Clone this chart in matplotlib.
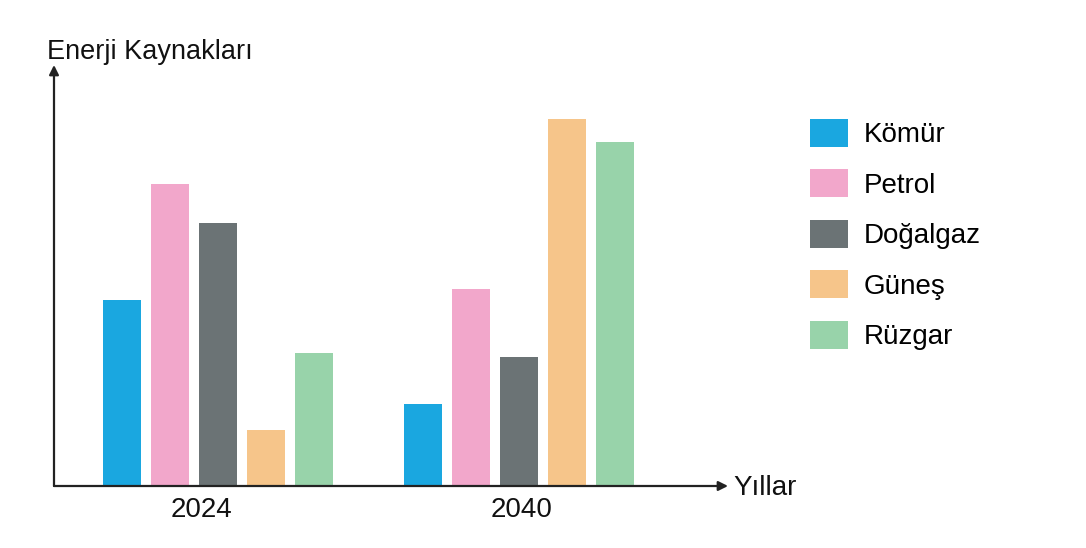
import matplotlib
matplotlib.use("Agg")
import matplotlib.pyplot as plt
from matplotlib.patches import Patch
import numpy as np

plt.rcParams['font.family'] = ['Liberation Sans', 'DejaVu Sans']

years = ["2024", "2040"]
sources = ["Kömür", "Petrol", "Doğalgaz", "Güneş", "Rüzgar"]
colors = ["#1aa7e0", "#f2a7cb", "#6b7375", "#f6c58a", "#98d3aa"]
values_2024 = [186, 302, 263, 56, 133]
values_2040 = [82, 197, 129, 367, 344]
series = [values_2024, values_2040]

W, H = 1086, 548
fig = plt.figure(figsize=(W / 100, H / 100), dpi=100)
ax = fig.add_axes([54 / W, (H - 486) / H, (728 - 54) / W, (486 - 65) / H])

width = 38 / 301
step = 48 / 301
group_x = np.arange(len(years))
for i, (src, col) in enumerate(zip(sources, colors)):
    vals = [s[i] for s in series]
    ax.bar(group_x + (i - 2) * step, vals, width=width, color=col, label=src)

ax.set_xlim(-163.5 / 301, (674 - 163.5) / 301)
ax.set_ylim(0, 421)
for sp in ax.spines.values():
    sp.set_visible(False)
ax.set_xticks([])
ax.set_yticks([])

arrow = dict(arrowstyle='-|>', color='#222222', lw=1.6, mutation_scale=14, shrinkA=0, shrinkB=0)
ax.annotate('', xy=(0, 1), xytext=(0, 0), xycoords='axes fraction', arrowprops=arrow)
ax.annotate('', xy=(1, 0), xytext=(0, 0), xycoords='axes fraction', arrowprops=arrow)

# tick labels
tick_px = [201, 522]
for lbl, px in zip(years, tick_px):
    fig.text(px / W, 1 - 517 / H, lbl, ha='center', va='baseline', fontsize=20, color='#111111')

fig.text(47 / W, 1 - 59 / H, "Enerji Kaynakları", ha='left', va='baseline', fontsize=19.5, color='#111111')
fig.text(733 / W, 1 - 488 / H, "Yıllar", ha='left', va='center', fontsize=20, color='#111111')

handles = [Patch(facecolor=c, edgecolor='none') for c in colors]
fig.legend(handles, sources, loc='upper left', bbox_to_anchor=(810 / W, 1 - 119 / H),
           frameon=False, fontsize=20, handlelength=1.37, handleheight=1.17,
           handletextpad=0.55, labelspacing=0.76, borderpad=0, borderaxespad=0)

fig.savefig("out.png", dpi=100)
